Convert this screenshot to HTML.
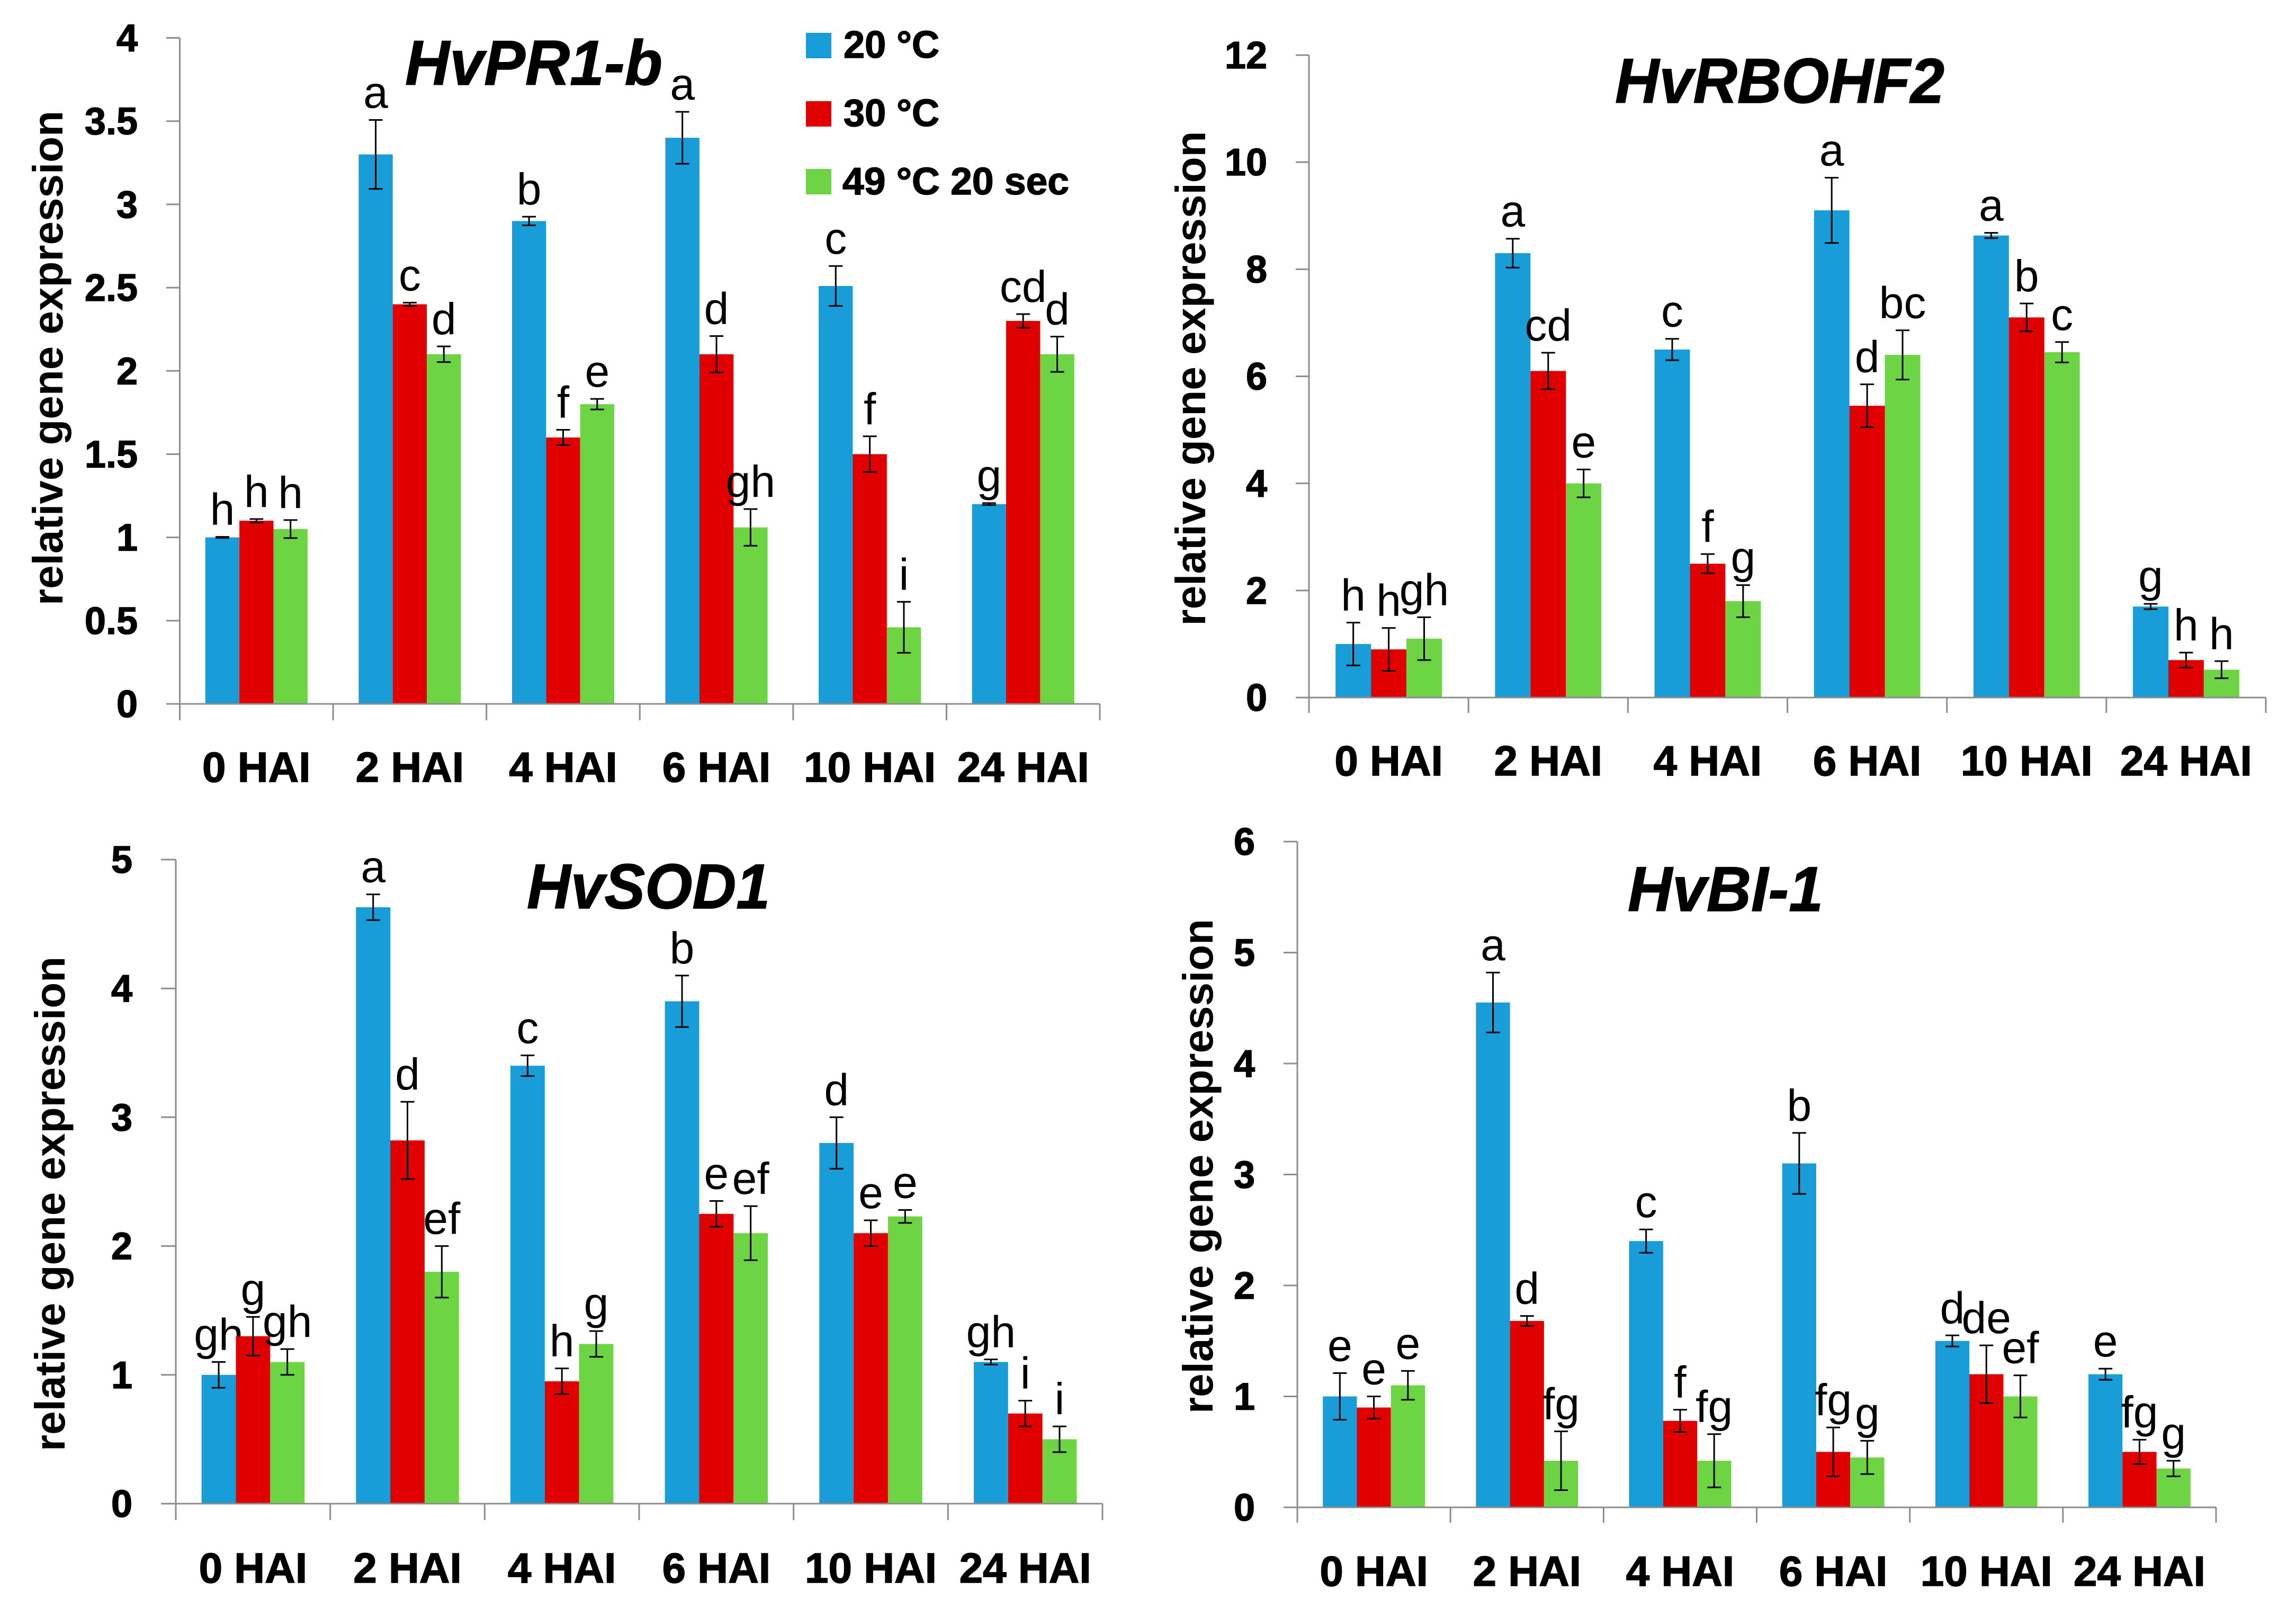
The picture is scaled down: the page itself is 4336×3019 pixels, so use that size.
<!DOCTYPE html>
<html lang="en">
<head>
<meta charset="utf-8">
<title>Relative gene expression</title>
<style>
html,body{margin:0;padding:0;background:#fff;}
svg{display:block;}
text{font-family:"Liberation Sans",sans-serif;fill:#000;}
</style>
</head>
<body>
<svg id="figure" xmlns="http://www.w3.org/2000/svg" width="4336" height="3019" viewBox="0 0 4336 3019">
<rect x="0" y="0" width="4336" height="3019" fill="#fff"/>
<g>
<rect x="1522" y="62" width="48" height="48" fill="#189dd9"/>
<text x="1593" y="109" font-size="72" font-weight="bold" stroke="#000" stroke-width="1.5" textLength="181" lengthAdjust="spacingAndGlyphs">20 °C</text>
<rect x="1522" y="191" width="48" height="48" fill="#e00000"/>
<text x="1593" y="238" font-size="72" font-weight="bold" stroke="#000" stroke-width="1.5" textLength="181" lengthAdjust="spacingAndGlyphs">30 °C</text>
<rect x="1522" y="319" width="48" height="48" fill="#6dd443"/>
<text x="1591" y="367" font-size="72" font-weight="bold" stroke="#000" stroke-width="1.5" textLength="428" lengthAdjust="spacingAndGlyphs">49 °C 20 sec</text>
</g>
</svg>
<script>
const categories = ['0 HAI','2 HAI','4 HAI','6 HAI','10 HAI','24 HAI'];
const seriesNames = ['20c','30c','49c-20sec'];
const seriesColors = ['#189dd9','#e00000','#6dd443'];

const pr1Ticks = ['0','0.5','1','1.5','2','2.5','3','3.5','4'];
const pr1Blue = [1.0,3.3,2.9,3.4,2.51,1.2];
const pr1Red = [1.1,2.4,1.6,2.1,1.5,2.3];
const pr1Green = [1.05,2.1,1.8,1.06,0.46,2.1];
const pr1BlueErr = [0.003,0.207,0.026,0.156,0.12,0.006];
const pr1RedErr = [0.01,0.01,0.046,0.109,0.107,0.041];
const pr1GreenErr = [0.054,0.047,0.032,0.11,0.153,0.106];
const pr1BlueSig = ['h','a','b','a','c','g'];
const pr1RedSig = ['h','c','f','d','f','cd'];
const pr1GreenSig = ['h','d','e','gh','i','d'];

const rbohTicks = ['0','2','4','6','8','10','12'];
const rbohBlue = [1.0,8.3,6.5,9.1,8.63,1.7];
const rbohRed = [0.9,6.1,2.5,5.45,7.1,0.7];
const rbohGreen = [1.1,4.0,1.8,6.4,6.45,0.52];
const rbohBlueErr = [0.4,0.27,0.2,0.61,0.05,0.05];
const rbohRedErr = [0.4,0.34,0.18,0.4,0.26,0.14];
const rbohGreenErr = [0.4,0.26,0.3,0.46,0.19,0.16];
const rbohBlueSig = ['h','a','c','a','a','g'];
const rbohRedSig = ['h','cd','f','d','b','h'];
const rbohGreenSig = ['gh','e','g','bc','c','h'];

const sodTicks = ['0','1','2','3','4','5'];
const sodBlue = [1.0,4.63,3.4,3.9,2.8,1.1];
const sodRed = [1.3,2.82,0.95,2.25,2.1,0.7];
const sodGreen = [1.1,1.8,1.24,2.1,2.23,0.5];
const sodBlueErr = [0.1,0.1,0.08,0.2,0.2,0.02];
const sodRedErr = [0.15,0.3,0.1,0.1,0.1,0.1];
const sodGreenErr = [0.1,0.2,0.1,0.21,0.05,0.1];
const sodBlueSig = ['gh','a','c','b','d','gh'];
const sodRedSig = ['g','d','h','e','e','i'];
const sodGreenSig = ['gh','ef','g','ef','e','i'];

const biTicks = ['0','1','2','3','4','5','6'];
const biBlue = [1.0,4.55,2.4,3.1,1.5,1.2];
const biRed = [0.9,1.68,0.78,0.5,1.2,0.5];
const biGreen = [1.1,0.42,0.42,0.45,1.0,0.35];
const biBlueErr = [0.21,0.27,0.105,0.275,0.05,0.05];
const biRedErr = [0.1,0.045,0.1,0.22,0.26,0.11];
const biGreenErr = [0.13,0.265,0.24,0.15,0.19,0.07];
const biBlueSig = ['e','a','c','b','d','e'];
const biRedSig = ['e','d','f','fg','de','fg'];
const biGreenSig = ['e','fg','fg','g','ef','g'];

const NS = 'http://www.w3.org/2000/svg';
const AXIS = '#8c8c8c';
const figure = document.getElementById('figure');

function svgEl(parent, tag, attrs) {
  const el = document.createElementNS(NS, tag);
  for (const k in attrs) el.setAttribute(k, attrs[k]);
  parent.appendChild(el);
  return el;
}

function drawPanel(p) {
  const group = svgEl(figure, 'g', {});
  
  

  const maxV = parseFloat(p.ticks[p.ticks.length - 1]);
  const yScale = v => p.y0 - (v / maxV) * (p.y0 - p.yTop);
  const catW = (p.xR - p.x0) / categories.length;
  const barW = catW / 4.5;
  const barX = (c, s) => p.x0 + c * catW + 0.75 * barW + s * barW;

  // bars, error bars, significance letters
  p.values.forEach((vals, s) => {
    vals.forEach((v, c) => {
      const x = barX(c, s);
      const yTop = yScale(v);
      const bar = svgEl(group, 'rect', {x: x, y: yTop, width: barW, height: p.y0 - yTop, fill: seriesColors[s]});
      
      

      const e = p.errors[s][c];
      const cx = x + barW / 2;
      const hi = yScale(v + e), lo = yScale(v - e);
      const err = svgEl(group, 'path', {
        d: 'M' + cx + ' ' + lo + 'V' + hi + 'M' + (cx - 13) + ' ' + hi + 'H' + (cx + 13) + 'M' + (cx - 13) + ' ' + lo + 'H' + (cx + 13),
        fill: 'none', stroke: '#000', 'stroke-width': 3
      });
      
      

      const sig = svgEl(group, 'text', {x: cx, y: hi - 23, 'font-size': 84, 'text-anchor': 'middle'});
      sig.textContent = p.letters[s][c];
      
      
    });
  });

  // y axis
  const yAxis = svgEl(group, 'path', {d: 'M' + p.x0 + ' ' + p.yTop + 'V' + p.catBottom, fill: 'none', stroke: AXIS, 'stroke-width': 3});
  
  

  p.ticks.forEach(t => {
    const y = yScale(parseFloat(t));
    const tick = svgEl(group, 'path', {d: 'M' + p.tickLeft + ' ' + y + 'H' + p.x0, fill: 'none', stroke: AXIS, 'stroke-width': 3});
    
    
    const label = svgEl(group, 'text', {x: p.tickLeft - 54, y: y + 25, 'font-size': 72, 'font-weight': 'bold', 'text-anchor': 'end', stroke: '#000', 'stroke-width': 1.5});
    label.textContent = t;
    
    
  });

  // x axis
  const xAxis = svgEl(group, 'path', {d: 'M' + p.x0 + ' ' + p.y0 + 'H' + p.xR, fill: 'none', stroke: AXIS, 'stroke-width': 3});
  
  

  for (let i = 0; i <= categories.length; i++) {
    const x = p.x0 + i * catW;
    const tick = svgEl(group, 'path', {d: 'M' + x + ' ' + p.y0 + 'V' + p.catBottom, fill: 'none', stroke: AXIS, 'stroke-width': 3});
    
    
  }

  categories.forEach((cat, i) => {
    const label = svgEl(group, 'text', {x: p.x0 + (i + 0.5) * catW, y: p.catBase, 'font-size': 80, 'font-weight': 'bold', 'text-anchor': 'middle', stroke: '#000', 'stroke-width': 1.5});
    label.textContent = cat;
    
    
  });

  // titles
  const yTitle = svgEl(group, 'text', {
    transform: 'translate(' + p.yTitleX + ' ' + p.yTitleY + ') rotate(-90)',
    'font-size': 80, 'font-weight': 'bold', 'text-anchor': 'middle',
    textLength: 934, lengthAdjust: 'spacingAndGlyphs'
  });
  yTitle.textContent = 'relative gene expression';
  
  

  const title = svgEl(group, 'text', {
    x: p.titleX, y: p.titleY, 'font-size': 120, 'font-weight': 'bold', 'font-style': 'italic',
    stroke: '#000', 'stroke-width': 1.5,
    textLength: p.titleLen, lengthAdjust: 'spacingAndGlyphs'
  });
  title.textContent = p.title;
  
  
}

drawPanel({
  key: 'hvpr1b', title: 'HvPR1-b', ticks: pr1Ticks,
  values: [pr1Blue, pr1Red, pr1Green], errors: [pr1BlueErr, pr1RedErr, pr1GreenErr], letters: [pr1BlueSig, pr1RedSig, pr1GreenSig],
  x0: 339.5, xR: 2077, yTop: 71.5, y0: 1329, tickLeft: 314, catBottom: 1360, catBase: 1476,
  yTitleX: 118, yTitleY: 676, titleX: 765, titleY: 160, titleLen: 486
});
drawPanel({
  key: 'hvrbohf2', title: 'HvRBOHF2', ticks: rbohTicks,
  values: [rbohBlue, rbohRed, rbohGreen], errors: [rbohBlueErr, rbohRedErr, rbohGreenErr], letters: [rbohBlueSig, rbohRedSig, rbohGreenSig],
  x0: 2472, xR: 4279, yTop: 104, y0: 1317, tickLeft: 2447, catBottom: 1346, catBase: 1464,
  yTitleX: 2276, yTitleY: 714.5, titleX: 3050, titleY: 194, titleLen: 622
});
drawPanel({
  key: 'hvsod1', title: 'HvSOD1', ticks: sodTicks,
  values: [sodBlue, sodRed, sodGreen], errors: [sodBlueErr, sodRedErr, sodGreenErr], letters: [sodBlueSig, sodRedSig, sodGreenSig],
  x0: 332, xR: 2082, yTop: 1623, y0: 2839, tickLeft: 304, catBottom: 2870, catBase: 2988,
  yTitleX: 122, yTitleY: 2273, titleX: 995, titleY: 1715, titleLen: 459
});
drawPanel({
  key: 'hvbi1', title: 'HvBI-1', ticks: biTicks,
  values: [biBlue, biRed, biGreen], errors: [biBlueErr, biRedErr, biGreenErr], letters: [biBlueSig, biRedSig, biGreenSig],
  x0: 2450, xR: 4185, yTop: 1589, y0: 2846, tickLeft: 2424, catBottom: 2875, catBase: 2994,
  yTitleX: 2290, yTitleY: 2202, titleX: 3074, titleY: 1720, titleLen: 369
});
</script>
</body>
</html>
